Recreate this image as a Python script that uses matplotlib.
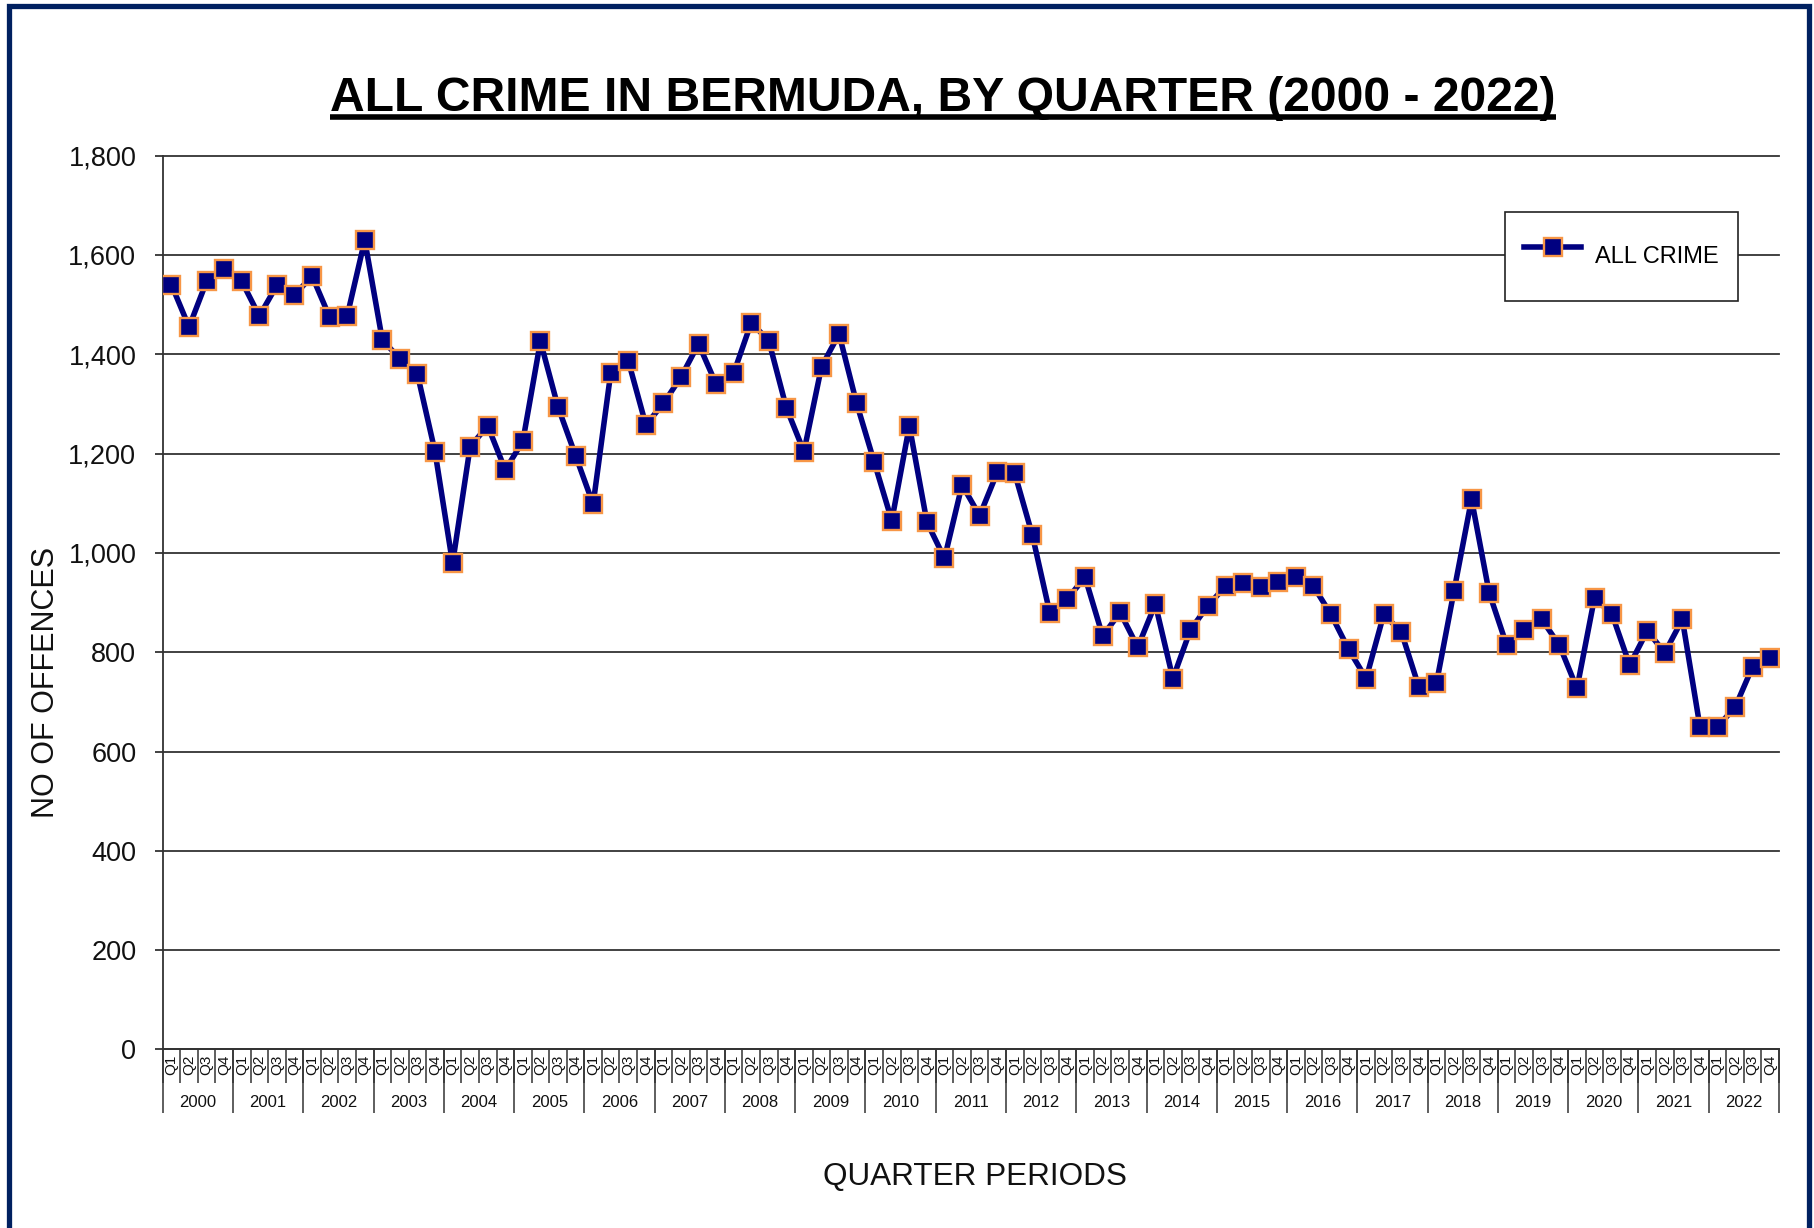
import numpy as np
import matplotlib
matplotlib.use('Agg')
import matplotlib.pyplot as plt
from matplotlib.patches import Rectangle
from matplotlib.lines import Line2D
from matplotlib.ticker import FuncFormatter

plt.rcParams['font.family'] = ['Liberation Sans', 'DejaVu Sans']

# ---- data ----
years = list(range(2000, 2023))
quarters = ['Q1', 'Q2', 'Q3', 'Q4']
all_crime = [
    1540, 1455, 1547, 1571,   # 2000
    1547, 1477, 1539, 1519,   # 2001
    1558, 1475, 1477, 1630,   # 2002
    1429, 1391, 1360, 1204,   # 2003
    979, 1214, 1256, 1167,    # 2004
    1225, 1426, 1294, 1196,   # 2005
    1098, 1362, 1387, 1258,   # 2006
    1301, 1354, 1421, 1340,   # 2007
    1362, 1464, 1427, 1292,   # 2008
    1204, 1375, 1441, 1301,   # 2009
    1183, 1065, 1256, 1062,   # 2010
    989, 1137, 1075, 1162,    # 2011
    1160, 1036, 878, 908,     # 2012
    951, 833, 880, 810,       # 2013
    897, 747, 845, 894,       # 2014
    933, 939, 932, 941,       # 2015
    951, 933, 876, 806,       # 2016
    747, 876, 841, 730,       # 2017
    737, 923, 1108, 920,      # 2018
    814, 845, 866, 814,       # 2019
    727, 910, 876, 774,       # 2020
    843, 799, 866, 650,       # 2021
    650, 689, 771, 789,       # 2022
]
series_label = 'ALL CRIME'
title = 'ALL CRIME IN BERMUDA, BY QUARTER (2000 - 2022)'
y_ticks = [0, 200, 400, 600, 800, 1000, 1200, 1400, 1600, 1800]

# ---- figure ----
W, H = 1815, 1228
fig = plt.figure(figsize=(W / 100, H / 100), dpi=100)
fig.patch.set_facecolor('white')

L, R, T, B = 162.7, 1779, 155.7, 1049.4
ax = fig.add_axes([L / W, 1 - B / H, (R - L) / W, (B - T) / H])

n = len(all_crime)
x = np.arange(n)
ax.plot(x, all_crime, color='#000080', lw=4.0, marker='s', markersize=12.5,
        markerfacecolor='#000080', markeredgecolor='#F79646',
        markeredgewidth=1.7, label=series_label, zorder=3)

ax.set_xlim(-0.5, n - 0.5)
ax.set_ylim(0, 1800)
ax.set_yticks(y_ticks)
ax.yaxis.set_major_formatter(FuncFormatter(lambda v, p: f'{int(v):,}'))
ax.grid(axis='y', color='#333333', lw=1.3)
ax.set_axisbelow(True)
for tk in ax.yaxis.get_major_ticks():
    tk.gridline.set_clip_on(False)

for s in ['top', 'right']:
    ax.spines[s].set_visible(False)
for s in ['left', 'bottom']:
    ax.spines[s].set_color('#333333')
    ax.spines[s].set_linewidth(1.3)

ax.tick_params(axis='y', length=6, width=1.3, color='#333333',
               labelsize=19.5, pad=13, labelcolor='#111111')

# quarter tick labels
q_labels = [q for _ in years for q in quarters]
ax.set_xticks(x)
ax.set_xticklabels(q_labels, rotation=90, fontsize=11, color='#111111')
ax.tick_params(axis='x', which='major', length=0, pad=4)
ax.set_xticks(np.arange(n + 1) - 0.5, minor=True)
ax.tick_params(axis='x', which='minor', length=24.5, width=1.1,
               color='#333333')

# year separators and labels
xt = ax.get_xaxis_transform()
year_bounds = np.arange(0, n + 1, 4) - 0.5
ax.vlines(year_bounds, -0.0712, 0, transform=xt, clip_on=False,
          color='#333333', lw=1.1)
for i, yr in enumerate(years):
    ax.text(4 * i + 1.5, -0.0589, str(yr), transform=xt, ha='center',
            va='center', fontsize=12, color='#111111')

# axis labels
fig.text(46 / W, 1 - 682 / H, 'NO OF OFFENCES', rotation=90,
         ha='center', va='center', fontsize=22, color='#111111')
fig.text(975 / W, 1 - 1177 / H, 'QUARTER PERIODS', ha='center',
         va='center', fontsize=22.7, color='#111111')

# title with underline
t = fig.text(943 / W, 1 - 111 / H, title, ha='center', va='baseline',
             fontsize=34.6, fontweight='bold', color='black')
fig.canvas.draw()
bb = t.get_window_extent(renderer=fig.canvas.get_renderer())
uy = 1 - 117 / H
fig.add_artist(Line2D([bb.x0 / W, bb.x1 / W], [uy, uy], transform=fig.transFigure,
                      color='black', lw=4.0, solid_capstyle='butt'))

# legend
leg = ax.legend(loc='center', bbox_to_anchor=(1621.5 / W, 1 - 256.5 / H),
                bbox_transform=fig.transFigure, fontsize=17, frameon=True,
                fancybox=False, edgecolor='#222222', framealpha=1,
                borderpad=0.8, handleheight=2.9, handlelength=2.4,
                handletextpad=0.6, borderaxespad=0)
leg.get_frame().set_linewidth(1.2)

# figure border
fig.add_artist(Rectangle((9 / W, -0.05), (1809.5 - 9) / W, 1.05 - 5.5 / H,
                         transform=fig.transFigure, fill=False,
                         edgecolor='#002060', lw=3.8))

fig.savefig('out.png', dpi=100, facecolor='white')
